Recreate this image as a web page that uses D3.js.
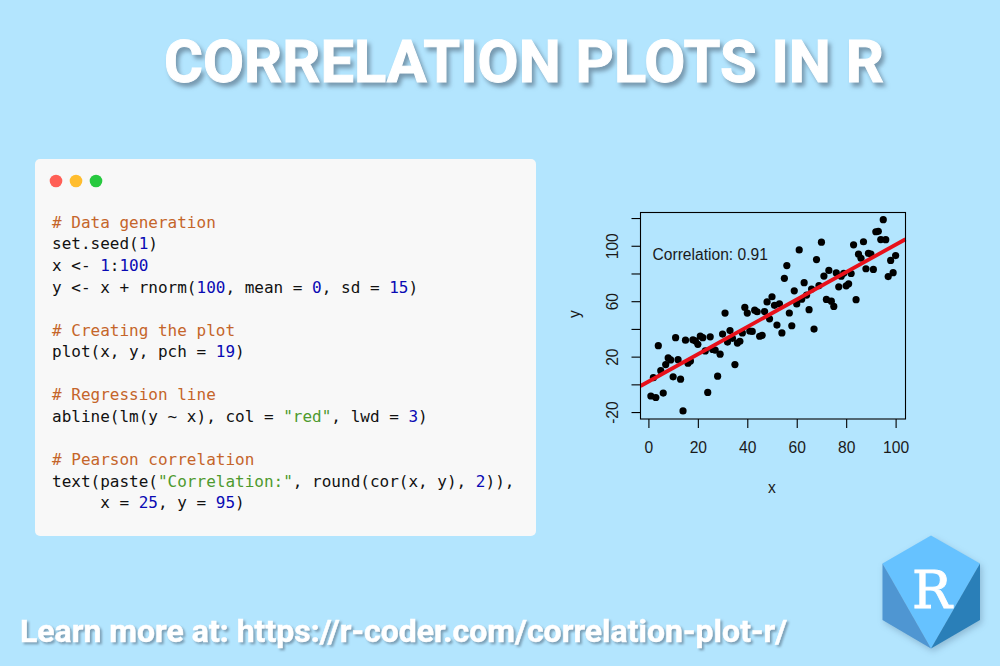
<!DOCTYPE html>
<html>
<head>
<meta charset="utf-8">
<script src="https://d3js.org/d3.v7.min.js"></script>
<style>
  html, body { margin: 0; padding: 0; background: #b3e5fe; overflow: hidden; }
  svg { display: block; }
  .banner { font-family: Roboto, sans-serif; font-weight: 700; fill: #fff; stroke: #fff; }
  .code text { font-family: "DejaVu Sans Mono", monospace; font-size: 16px; white-space: pre; }
  .plot text { font-family: "Liberation Sans", Arial, sans-serif; font-size: 15.6px; fill: #1a1a1a; }
</style>
</head>
<body>
<div id="chart"></div>

<script>

// values, x is 1:100
var yValues = [
  -8.4, 4.8, -9.5, 27.9, 9.9, -6.3, 14.3, 19.1, 17.6, 5.4,
  33.7, 17.8, 3.7, -19.2, 31.9, 15.3, 16.8, 32.2, 31.3, 28.9,
  34.8, 33.7, 24.1, -5.8, 34.3, 25.2, 24.7, 5.9, 21.8, 36.3,
  51.4, 30.5, 38.8, 33.2, 14.3, 29.8, 31.1, 37.1, 55.5, 51.4,
  38.5, 38.2, 53.5, 52.4, 34.7, 35.4, 52.5, 59.5, 47.3, 63.2,
  57.0, 42.8, 58.1, 37.1, 76.5, 85.7, 51.5, 42.3, 67.5, 58.0,
  97.0, 61.4, 73.4, 64.4, 53.9, 68.8, 39.9, 90.0, 71.3, 102.6,
  78.1, 61.3, 82.2, 60.0, 56.2, 80.4, 70.4, 78.0, 80.1, 71.1,
  72.5, 80.0, 100.7, 61.1, 93.9, 91.0, 102.9, 83.4, 94.6, 94.0,
  82.9, 110.1, 110.4, 104.5, 118.8, 104.4, 77.8, 89.4, 80.6, 92.9
];
var xTicks = [0, 20, 40, 60, 80, 100];
var yTicks = [-20, 0, 20, 40, 60, 80, 100, 120];
var yTickLabels = [-20, 20, 60, 100];

// regression line, two ends read at the plot box
var lineX = [-3.2, 104];
var lineY = [-1.2, 104.7];

var corLabel = "Correlation: 0.91";
var corAt = [25, 95];

var codeLines = [
  '# Data generation',
  'set.seed(1)',
  'x <- 1:100',
  'y <- x + rnorm(100, mean = 0, sd = 15)',
  '',
  '# Creating the plot',
  'plot(x, y, pch = 19)',
  '',
  '# Regression line',
  'abline(lm(y ~ x), col = "red", lwd = 3)',
  '',
  '# Pearson correlation',
  'text(paste("Correlation:", round(cor(x, y), 2)),',
  '     x = 25, y = 95)'
];

var svg = d3.select("#chart")
  .append("svg")
    .attr("width", 1000)
    .attr("height", 666);

// title and footer
svg.append("text")
    .attr("class", "banner")
    .attr("x", 164)
    .attr("y", 82)
    .style("font-size", "59.6px")
    .style("stroke-width", 1)
    .style("filter", "drop-shadow(3px 4px 2px rgba(70,90,110,0.55))")
    .text("CORRELATION PLOTS IN R");

svg.append("text")
    .attr("class", "banner")
    .attr("x", 20)
    .attr("y", 642)
    .style("font-size", "32px")
    .style("stroke-width", 0.5)
    .style("filter", "drop-shadow(2px 2px 1px rgba(70,90,110,0.5))")
    .text("Learn more at: https://r-coder.com/correlation-plot-r/");

// code window
var code = svg.append("g").attr("class", "code");

code.append("rect")
    .attr("x", 35).attr("y", 159)
    .attr("width", 501).attr("height", 377)
    .attr("rx", 5)
    .style("fill", "#f8f8f8");

code.selectAll("circle")
  .data(["#ff5f56", "#ffbd2e", "#27c93f"])
  .enter()
  .append("circle")
    .attr("cx", function(d, i) { return 56 + i * 20; })
    .attr("cy", 181)
    .attr("r", 6.3)
    .style("fill", function(d) { return d; });

// split a line in coloured pieces: comments, strings, numbers
function tokens(line) {
  if (line.charAt(0) === "#") return [{t: line, c: "#c5652a"}];
  var out = [];
  line.split(/("[^"]*"|\b\d+\b)/).forEach(function(s) {
    if (!s) return;
    var c = "#111";
    if (s.charAt(0) === '"') c = "#4e9a2e";
    else if (/^\d+$/.test(s)) c = "#0a0ab4";
    out.push({t: s, c: c});
  });
  return out;
}

codeLines.forEach(function(line, i) {
  var row = code.append("text")
      .attr("x", 52)
      .attr("y", 227.8 + i * 21.58)
      .attr("xml:space", "preserve");
  row.selectAll("tspan")
    .data(tokens(line))
    .enter()
    .append("tspan")
      .style("fill", function(d) { return d.c; })
      .text(function(d) { return d.t; });
});

// scatter plot
var box = {left: 640.5, right: 905.5, top: 212.5, bottom: 419};

var x = d3.scaleLinear()
    .domain([-3.2, 104])
    .range([box.left, box.right]);

var y = d3.scaleLinear()
    .domain([-25, 124])
    .range([box.bottom, box.top]);

var plot = svg.append("g").attr("class", "plot");

var xAxis = plot.append("g")
    .attr("transform", "translate(0," + box.bottom + ")")
    .call(d3.axisBottom(x).tickValues(xTicks).tickSize(9).tickPadding(14));

var yAxis = plot.append("g")
    .attr("transform", "translate(" + box.left + ",0)")
    .call(d3.axisLeft(y).tickValues(yTicks).tickSize(9)
      .tickFormat(function(d) { return yTickLabels.indexOf(d) >= 0 ? d : ""; }));

xAxis.select(".domain").remove();
yAxis.select(".domain").remove();
plot.selectAll(".tick line").style("stroke", "#000").style("stroke-width", 1.1);

// R turns the y labels sideways
yAxis.selectAll(".tick text")
    .attr("transform", "rotate(-90)")
    .attr("text-anchor", "middle")
    .attr("x", 0)
    .attr("y", -23)
    .attr("dy", 0);

plot.selectAll(".tick text").style("font-size", "15.6px").style("fill", "#1a1a1a");

plot.append("g")
  .selectAll("circle")
  .data(yValues)
  .enter()
  .append("circle")
    .attr("cx", function(d, i) { return x(i + 1); })
    .attr("cy", function(d) { return y(d); })
    .attr("r", 3.6)
    .style("fill", "#000");

plot.append("line")
    .attr("x1", x(lineX[0])).attr("y1", y(lineY[0]))
    .attr("x2", x(lineX[1])).attr("y2", y(lineY[1]))
    .style("stroke", "#e8101a")
    .style("stroke-width", 3.8);

plot.append("rect")
    .attr("x", box.left).attr("y", box.top)
    .attr("width", box.right - box.left)
    .attr("height", box.bottom - box.top)
    .style("fill", "none")
    .style("stroke", "#000")
    .style("stroke-width", 1.1);

plot.append("text")
    .attr("x", x(corAt[0]))
    .attr("y", y(corAt[1]))
    .attr("dy", "0.45em")
    .attr("text-anchor", "middle")
    .text(corLabel);

plot.append("text")
    .attr("x", 772)
    .attr("y", 493)
    .attr("text-anchor", "middle")
    .text("x");

plot.append("text")
    .attr("transform", "translate(580,314) rotate(-90)")
    .attr("text-anchor", "middle")
    .text("y");

// logo
var logo = svg.append("g").style("filter", "drop-shadow(2px 3px 3px rgba(60,90,120,0.3))");

logo.append("polygon")
    .attr("points", "931,535.5 980,563.5 931,648.5 882.5,563.5")
    .style("fill", "#66c2ff");
logo.append("polygon")
    .attr("points", "882.5,563.5 931,648.5 882.5,620")
    .style("fill", "#4f96d2");
logo.append("polygon")
    .attr("points", "980,563.5 980,620 931,648.5")
    .style("fill", "#2a7fb8");
logo.append("text")
    .attr("x", 932)
    .attr("y", 608)
    .attr("text-anchor", "middle")
    .style("font-family", "'DejaVu Serif', serif")
    .style("font-size", "53px")
    .style("fill", "#fff")
    .style("stroke", "#fff")
    .style("stroke-width", 0.9)
    .text("R");

</script>
</body>
</html>
